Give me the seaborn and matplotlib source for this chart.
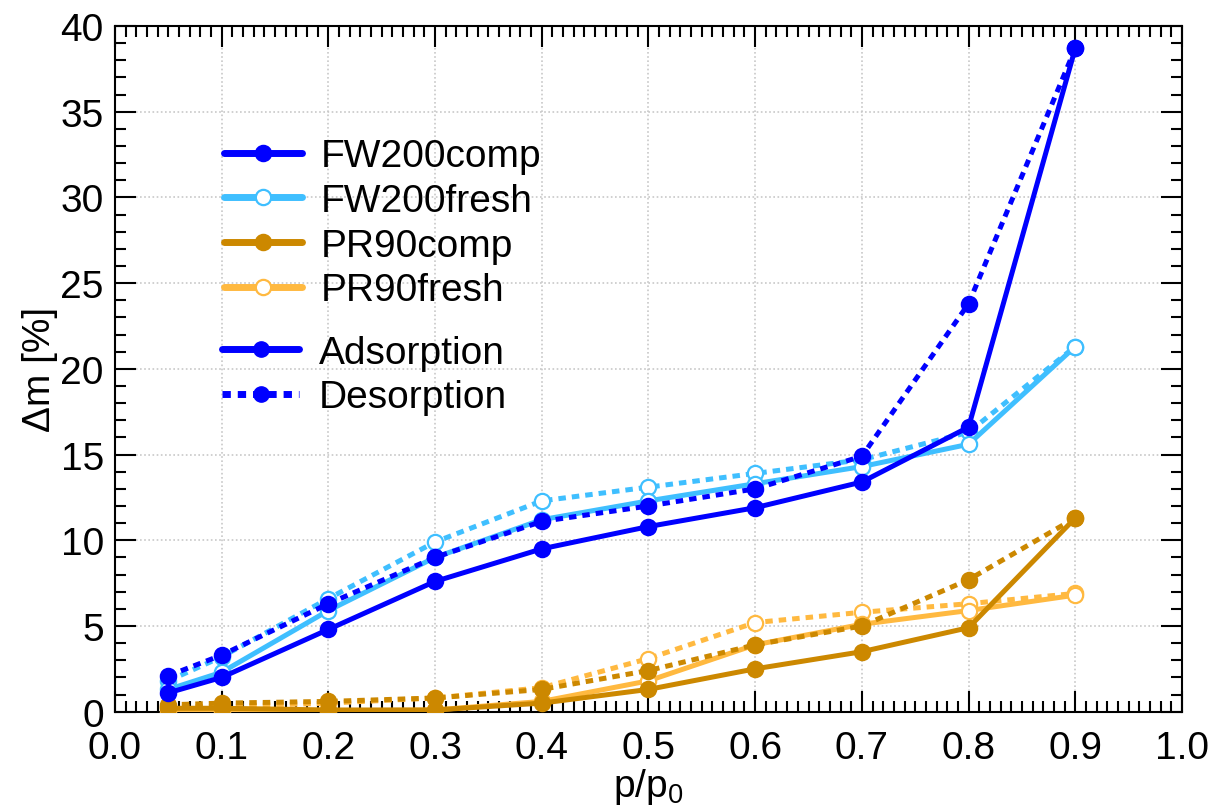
import numpy as np
import pandas as pd
import matplotlib
matplotlib.use("Agg")
import matplotlib.pyplot as plt
from matplotlib.lines import Line2D
from matplotlib.ticker import MultipleLocator
import seaborn as sns

sns.set_style("ticks")
plt.rcParams['font.family'] = ['Liberation Sans', 'DejaVu Sans']
plt.rcParams['mathtext.fontset'] = 'custom'
plt.rcParams['mathtext.rm'] = 'Liberation Sans'
plt.rcParams['text.color'] = 'black'
plt.rcParams['axes.labelcolor'] = 'black'
plt.rcParams['xtick.color'] = 'black'
plt.rcParams['ytick.color'] = 'black'
plt.rcParams['axes.edgecolor'] = 'black'

# relative pressure points
p_rel = [0.05, 0.1, 0.2, 0.3, 0.4, 0.5, 0.6, 0.7, 0.8, 0.9]

# mass change [%]
fw200comp_ads = [1.1, 2.0, 4.8, 7.6, 9.5, 10.8, 11.9, 13.4, 16.6, 38.7]
fw200comp_des = [2.1, 3.3, 6.3, 9.0, 11.1, 12.0, 13.0, 14.9, 23.8, 38.7]
fw200fresh_ads = [1.3, 2.3, 5.9, 9.0, 11.2, 12.3, 13.3, 14.3, 15.6, 21.3]
fw200fresh_des = [1.8, 3.2, 6.6, 9.9, 12.3, 13.1, 13.9, 14.7, 16.3, 21.3]
pr90comp_ads = [0.2, 0.2, 0.1, 0.1, 0.5, 1.3, 2.5, 3.5, 4.9, 11.3]
pr90comp_des = [0.4, 0.5, 0.6, 0.8, 1.3, 2.4, 3.9, 5.0, 7.7, 11.3]
pr90fresh_ads = [0.0, 0.0, 0.05, 0.1, 0.6, 1.8, 3.9, 5.1, 5.9, 6.8]
pr90fresh_des = [0.3, 0.3, 0.5, 0.8, 1.4, 3.1, 5.2, 5.8, 6.3, 6.9]

samples = ['FW200comp', 'FW200fresh', 'PR90comp', 'PR90fresh']
colors = {'FW200comp': '#0000ff', 'FW200fresh': '#3fbfff',
          'PR90comp': '#cc8800', 'PR90fresh': '#ffb940'}
filled = {'FW200comp': True, 'FW200fresh': False, 'PR90comp': True, 'PR90fresh': False}
data = {
    ('FW200comp', 'Adsorption'): fw200comp_ads,
    ('FW200comp', 'Desorption'): fw200comp_des,
    ('FW200fresh', 'Adsorption'): fw200fresh_ads,
    ('FW200fresh', 'Desorption'): fw200fresh_des,
    ('PR90comp', 'Adsorption'): pr90comp_ads,
    ('PR90comp', 'Desorption'): pr90comp_des,
    ('PR90fresh', 'Adsorption'): pr90fresh_ads,
    ('PR90fresh', 'Desorption'): pr90fresh_des,
}

dotted = (0, (1.5, 1.2))

fig = plt.figure(figsize=(12.14, 8.12), dpi=100)
ax = fig.add_axes([0.0947, 0.1223, 0.8789, 0.8444])

# draw in an order so the comp series sit on top
for sample in ['PR90fresh', 'PR90comp', 'FW200fresh', 'FW200comp']:
    for branch in ['Desorption', 'Adsorption']:
        df = pd.DataFrame({'p': p_rel, 'dm': data[(sample, branch)]})
        c = colors[sample]
        sns.lineplot(data=df, x='p', y='dm', ax=ax, color=c, lw=3.6,
                     linestyle='-' if branch == 'Adsorption' else dotted,
                     marker='o', markersize=11, markeredgewidth=1.6,
                     markeredgecolor=c,
                     markerfacecolor=c if filled[sample] else 'white',
                     legend=False, zorder=3)

ax.set_xlim(0, 1.0)
ax.set_ylim(0, 40)
ax.xaxis.set_major_locator(MultipleLocator(0.1))
ax.xaxis.set_minor_locator(MultipleLocator(0.01))
ax.yaxis.set_major_locator(MultipleLocator(5))
ax.yaxis.set_minor_locator(MultipleLocator(1))
ax.set_xticklabels([f'{v:.1f}' for v in ax.get_xticks()])
ax.tick_params(which='both', direction='in', top=True, right=True, width=1.5,
               labelsize=28)
ax.tick_params(axis='x', pad=13)
ax.tick_params(axis='y', pad=8)
ax.tick_params(which='major', length=15)
ax.tick_params(which='minor', length=8)
for s in ax.spines.values():
    s.set_linewidth(1.5)
ax.grid(True, which='major', color='#c8c8c8', linestyle=(0, (1, 1.5)), lw=1.2)
ax.set_axisbelow(True)

ax.set_xlabel(r'p/p$_\mathregular{0}$', fontsize=28, labelpad=0)
ax.set_ylabel('Δm [%]', fontsize=28, labelpad=2)

# legend 1: samples
h1 = [Line2D([], [], color=colors[s], lw=5, marker='o', markersize=11,
             markeredgewidth=1.6, markeredgecolor=colors[s],
             markerfacecolor=colors[s] if filled[s] else 'white') for s in samples]
leg1 = ax.legend(h1, samples, loc='upper left', bbox_to_anchor=(0.102, 0.836),
                 frameon=False, fontsize=28, handlelength=2.0, handletextpad=0.5,
                 labelspacing=0.22, borderpad=0, borderaxespad=0)
ax.add_artist(leg1)

# legend 2: branches
h2 = [Line2D([], [], color='#0000ff', lw=5, marker='o', markersize=11),
      Line2D([], [], color='#0000ff', lw=5, linestyle=(0, (1.2, 1.0)), marker='o', markersize=11)]
ax.legend(h2, ['Adsorption', 'Desorption'], loc='upper left', bbox_to_anchor=(0.100, 0.550),
          frameon=False, fontsize=28, handlelength=2.0, handletextpad=0.5,
          labelspacing=0.22, borderpad=0, borderaxespad=0)

fig.savefig('out.png', dpi=100)
